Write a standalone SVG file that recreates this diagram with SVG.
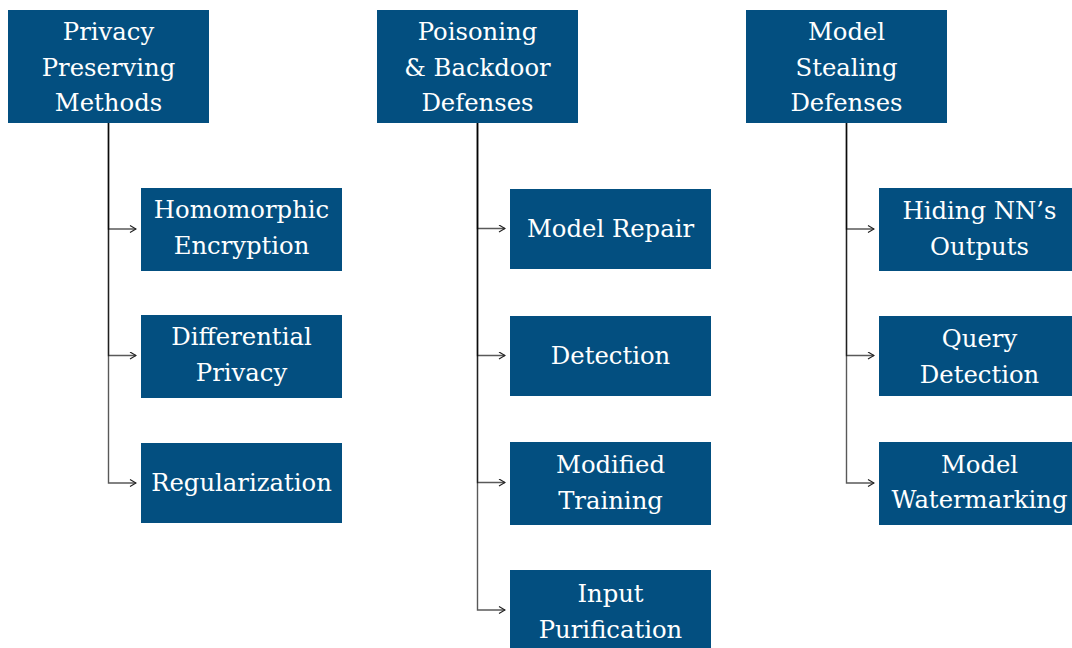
<svg xmlns="http://www.w3.org/2000/svg" width="1072" height="648" viewBox="0 0 1072 648">
<defs>
<style>
.box{fill:#034f80}
.t{fill:#fff;font-family:"DejaVu Serif","Liberation Serif",serif;font-size:24.3px;text-anchor:middle}
.c{fill:none;stroke:#000;stroke-opacity:0.65;stroke-width:1.4}
</style>
<marker id="ah" viewBox="0 0 8 8" refX="7" refY="4" markerWidth="8" markerHeight="8" markerUnits="userSpaceOnUse" orient="auto">
<path d="M1 0.5 L7 4 L1 7.5" fill="none" stroke="#222" stroke-width="1.2"/>
</marker>
</defs>
<rect width="1072" height="648" fill="#fff"/>
<g id="connectors">
<path class="c" d="M108.5 122 V229 H136" marker-end="url(#ah)"/>
<path class="c" d="M108.5 122 V355.5 H136" marker-end="url(#ah)"/>
<path class="c" d="M108.5 122 V483 H136" marker-end="url(#ah)"/>
<path class="c" d="M477.5 122 V228.5 H505" marker-end="url(#ah)"/>
<path class="c" d="M477.5 122 V355.5 H505" marker-end="url(#ah)"/>
<path class="c" d="M477.5 122 V482.5 H505" marker-end="url(#ah)"/>
<path class="c" d="M477.5 122 V610 H505" marker-end="url(#ah)"/>
<path class="c" d="M846.5 122 V229 H874" marker-end="url(#ah)"/>
<path class="c" d="M846.5 122 V355.5 H874" marker-end="url(#ah)"/>
<path class="c" d="M846.5 122 V483 H874" marker-end="url(#ah)"/>
</g>
<g id="privacy">
<rect class="box" x="8" y="10" width="201" height="113"/>
<text class="t" x="108.5" y="40">Privacy</text>
<text class="t" x="108.5" y="76">Preserving</text>
<text class="t" x="108.5" y="111">Methods</text>
</g>
<g id="homomorphic">
<rect class="box" x="141" y="188" width="201" height="83"/>
<text class="t" x="241.5" y="218">Homomorphic</text>
<text class="t" x="241.5" y="254">Encryption</text>
</g>
<g id="differential">
<rect class="box" x="141" y="315" width="201" height="83"/>
<text class="t" x="241.5" y="345">Differential</text>
<text class="t" x="241.5" y="381">Privacy</text>
</g>
<g id="regularization">
<rect class="box" x="141" y="443" width="201" height="80"/>
<text class="t" x="241.5" y="491">Regularization</text>
</g>
<g id="poisoning">
<rect class="box" x="377" y="10" width="201" height="113"/>
<text class="t" x="477.5" y="40">Poisoning</text>
<text class="t" x="477.5" y="76">&amp; Backdoor</text>
<text class="t" x="477.5" y="111">Defenses</text>
</g>
<g id="model-repair">
<rect class="box" x="510" y="189" width="201" height="80"/>
<text class="t" x="610.5" y="237">Model Repair</text>
</g>
<g id="detection">
<rect class="box" x="510" y="316" width="201" height="80"/>
<text class="t" x="610.5" y="364">Detection</text>
</g>
<g id="modified-training">
<rect class="box" x="510" y="442" width="201" height="83"/>
<text class="t" x="610.5" y="473">Modified</text>
<text class="t" x="610.5" y="509">Training</text>
</g>
<g id="input-purification">
<rect class="box" x="510" y="570" width="201" height="82"/>
<text class="t" x="610.5" y="602">Input</text>
<text class="t" x="610.5" y="638">Purification</text>
</g>
<g id="model-stealing">
<rect class="box" x="746" y="10" width="201" height="113"/>
<text class="t" x="846.5" y="40">Model</text>
<text class="t" x="846.5" y="76">Stealing</text>
<text class="t" x="846.5" y="111">Defenses</text>
</g>
<g id="hiding">
<rect class="box" x="879" y="188" width="201" height="83"/>
<text class="t" x="979.5" y="219">Hiding NN’s</text>
<text class="t" x="979.5" y="255">Outputs</text>
</g>
<g id="query-detection">
<rect class="box" x="879" y="316" width="201" height="80"/>
<text class="t" x="979.5" y="347">Query</text>
<text class="t" x="979.5" y="383">Detection</text>
</g>
<g id="watermarking">
<rect class="box" x="879" y="442" width="201" height="83"/>
<text class="t" x="979.5" y="473">Model</text>
<text class="t" x="979.5" y="508">Watermarking</text>
</g>
</svg>
